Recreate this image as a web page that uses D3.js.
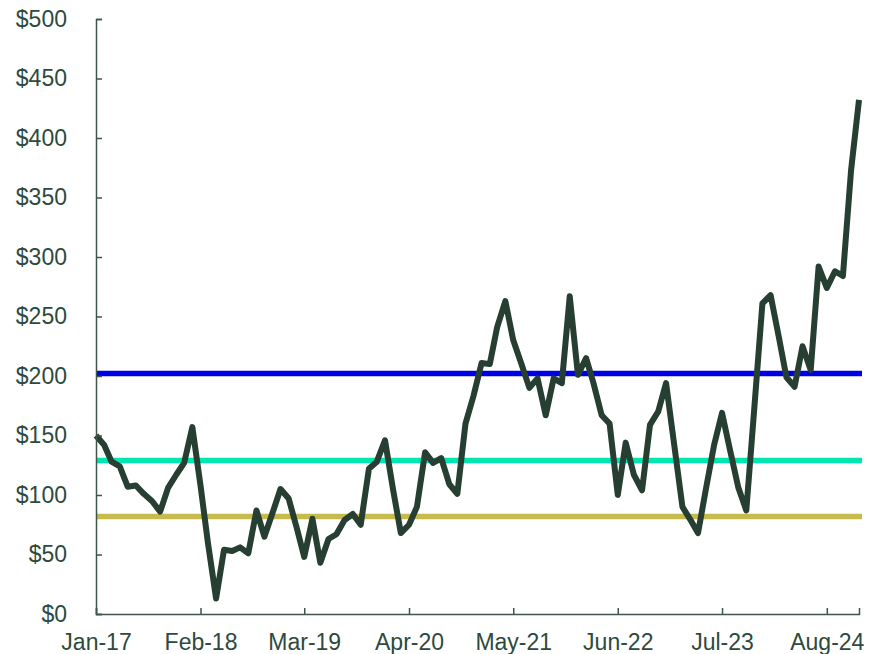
<!DOCTYPE html>
<html>
<head>
<meta charset="utf-8">
<script src="https://cdn.jsdelivr.net/npm/d3@7"></script>
<style>
  body { margin: 0; background: #fff; }
  svg text { font-family: "Liberation Sans", Arial, sans-serif; }
</style>
</head>
<body>
<svg id="chart" width="869" height="654"></svg>
<script>
// monthly values, Jan-17 .. Dec-24
const startMonth = "Jan-17";
const values = [
  150, 142, 128, 124, 107, 108, 101, 95, 86, 106, 117, 127,
  157, 108, 60, 13, 54, 53, 56, 51, 87, 65, 85, 105,
  97, 72, 48, 80, 43, 63, 67, 79, 84, 75, 122, 128,
  146, 104, 68, 75, 90, 136, 127, 131, 109, 101, 160, 183,
  211, 210, 241, 263, 230, 210, 190, 198, 167, 198, 194, 267,
  201, 215, 194, 167, 160, 100, 144, 117, 104, 159, 170, 194,
  142, 90, 80, 68, 105, 142, 169, 137, 106, 87, 175, 261,
  268, 233, 199, 191, 225, 205, 292, 274, 288, 284, 373, 432
];
const tickLabels = ["Jan-17", "Feb-18", "Mar-19", "Apr-20", "May-21", "Jun-22", "Jul-23", "Aug-24"];
const yTicks = [0, 50, 100, 150, 200, 250, 300, 350, 400, 450, 500];
// reference levels
const levels = [202, 129, 82];
const levelColors = ["#0000e6", "#00e6b0", "#c6bb4c"];

const parse = d3.timeParse("%b-%y");
const fmt = d3.timeFormat("%b-%y");
const t0 = parse(startMonth);
const data = values.map((v, i) => ({ date: d3.timeMonth.offset(t0, i), value: v }));

const svg = d3.select("#chart");
const marginLeft = 96, plotRight = 859, plotTop = 19, plotBottom = 614;

const x = d3.scaleTime()
  .domain(d3.extent(data, d => d.date))
  .range([marginLeft, plotRight]);
const y = d3.scaleLinear().domain([0, 500]).range([plotBottom, plotTop]);

const textColor = "#2d4a3d";
const axisColor = "#3f554a";

// reference lines
svg.append("g").selectAll("line")
  .data(levels)
  .enter()
  .append("line")
  .attr("x1", x.range()[0])
  .attr("x2", x.range()[1] + 3)
  .attr("y1", d => y(d))
  .attr("y2", d => y(d))
  .attr("stroke", (d, i) => levelColors[i])
  .attr("stroke-width", 5.5);

// line
svg.append("path")
  .datum(data)
  .attr("fill", "none")
  .attr("stroke", "#263f32")
  .attr("stroke-width", 6)
  .attr("stroke-linejoin", "round")
  .attr("d", d3.line().x(d => x(d.date)).y(d => y(d.value)));

// axes
const yAxis = svg.append("g")
  .attr("transform", "translate(" + marginLeft + ",0)")
  .call(d3.axisLeft(y).tickValues(yTicks).tickSize(-6).tickPadding(29)
    .tickFormat(d => "$" + d));

const xAxis = svg.append("g")
  .attr("transform", "translate(0," + plotBottom + ")")
  .call(d3.axisBottom(x).tickValues(tickLabels.map(parse)).tickSize(-6).tickPadding(20)
    .tickFormat(fmt));

[yAxis, xAxis].forEach(g => {
  g.select(".domain").attr("stroke", axisColor).attr("stroke-width", 1.5);
  g.selectAll(".tick line").attr("stroke", axisColor).attr("stroke-width", 1.5);
  g.selectAll("text")
    .attr("fill", textColor)
    .style("font-size", "23px")
    .style("font-family", "'Liberation Sans', Arial, sans-serif");
});
</script>
</body>
</html>
